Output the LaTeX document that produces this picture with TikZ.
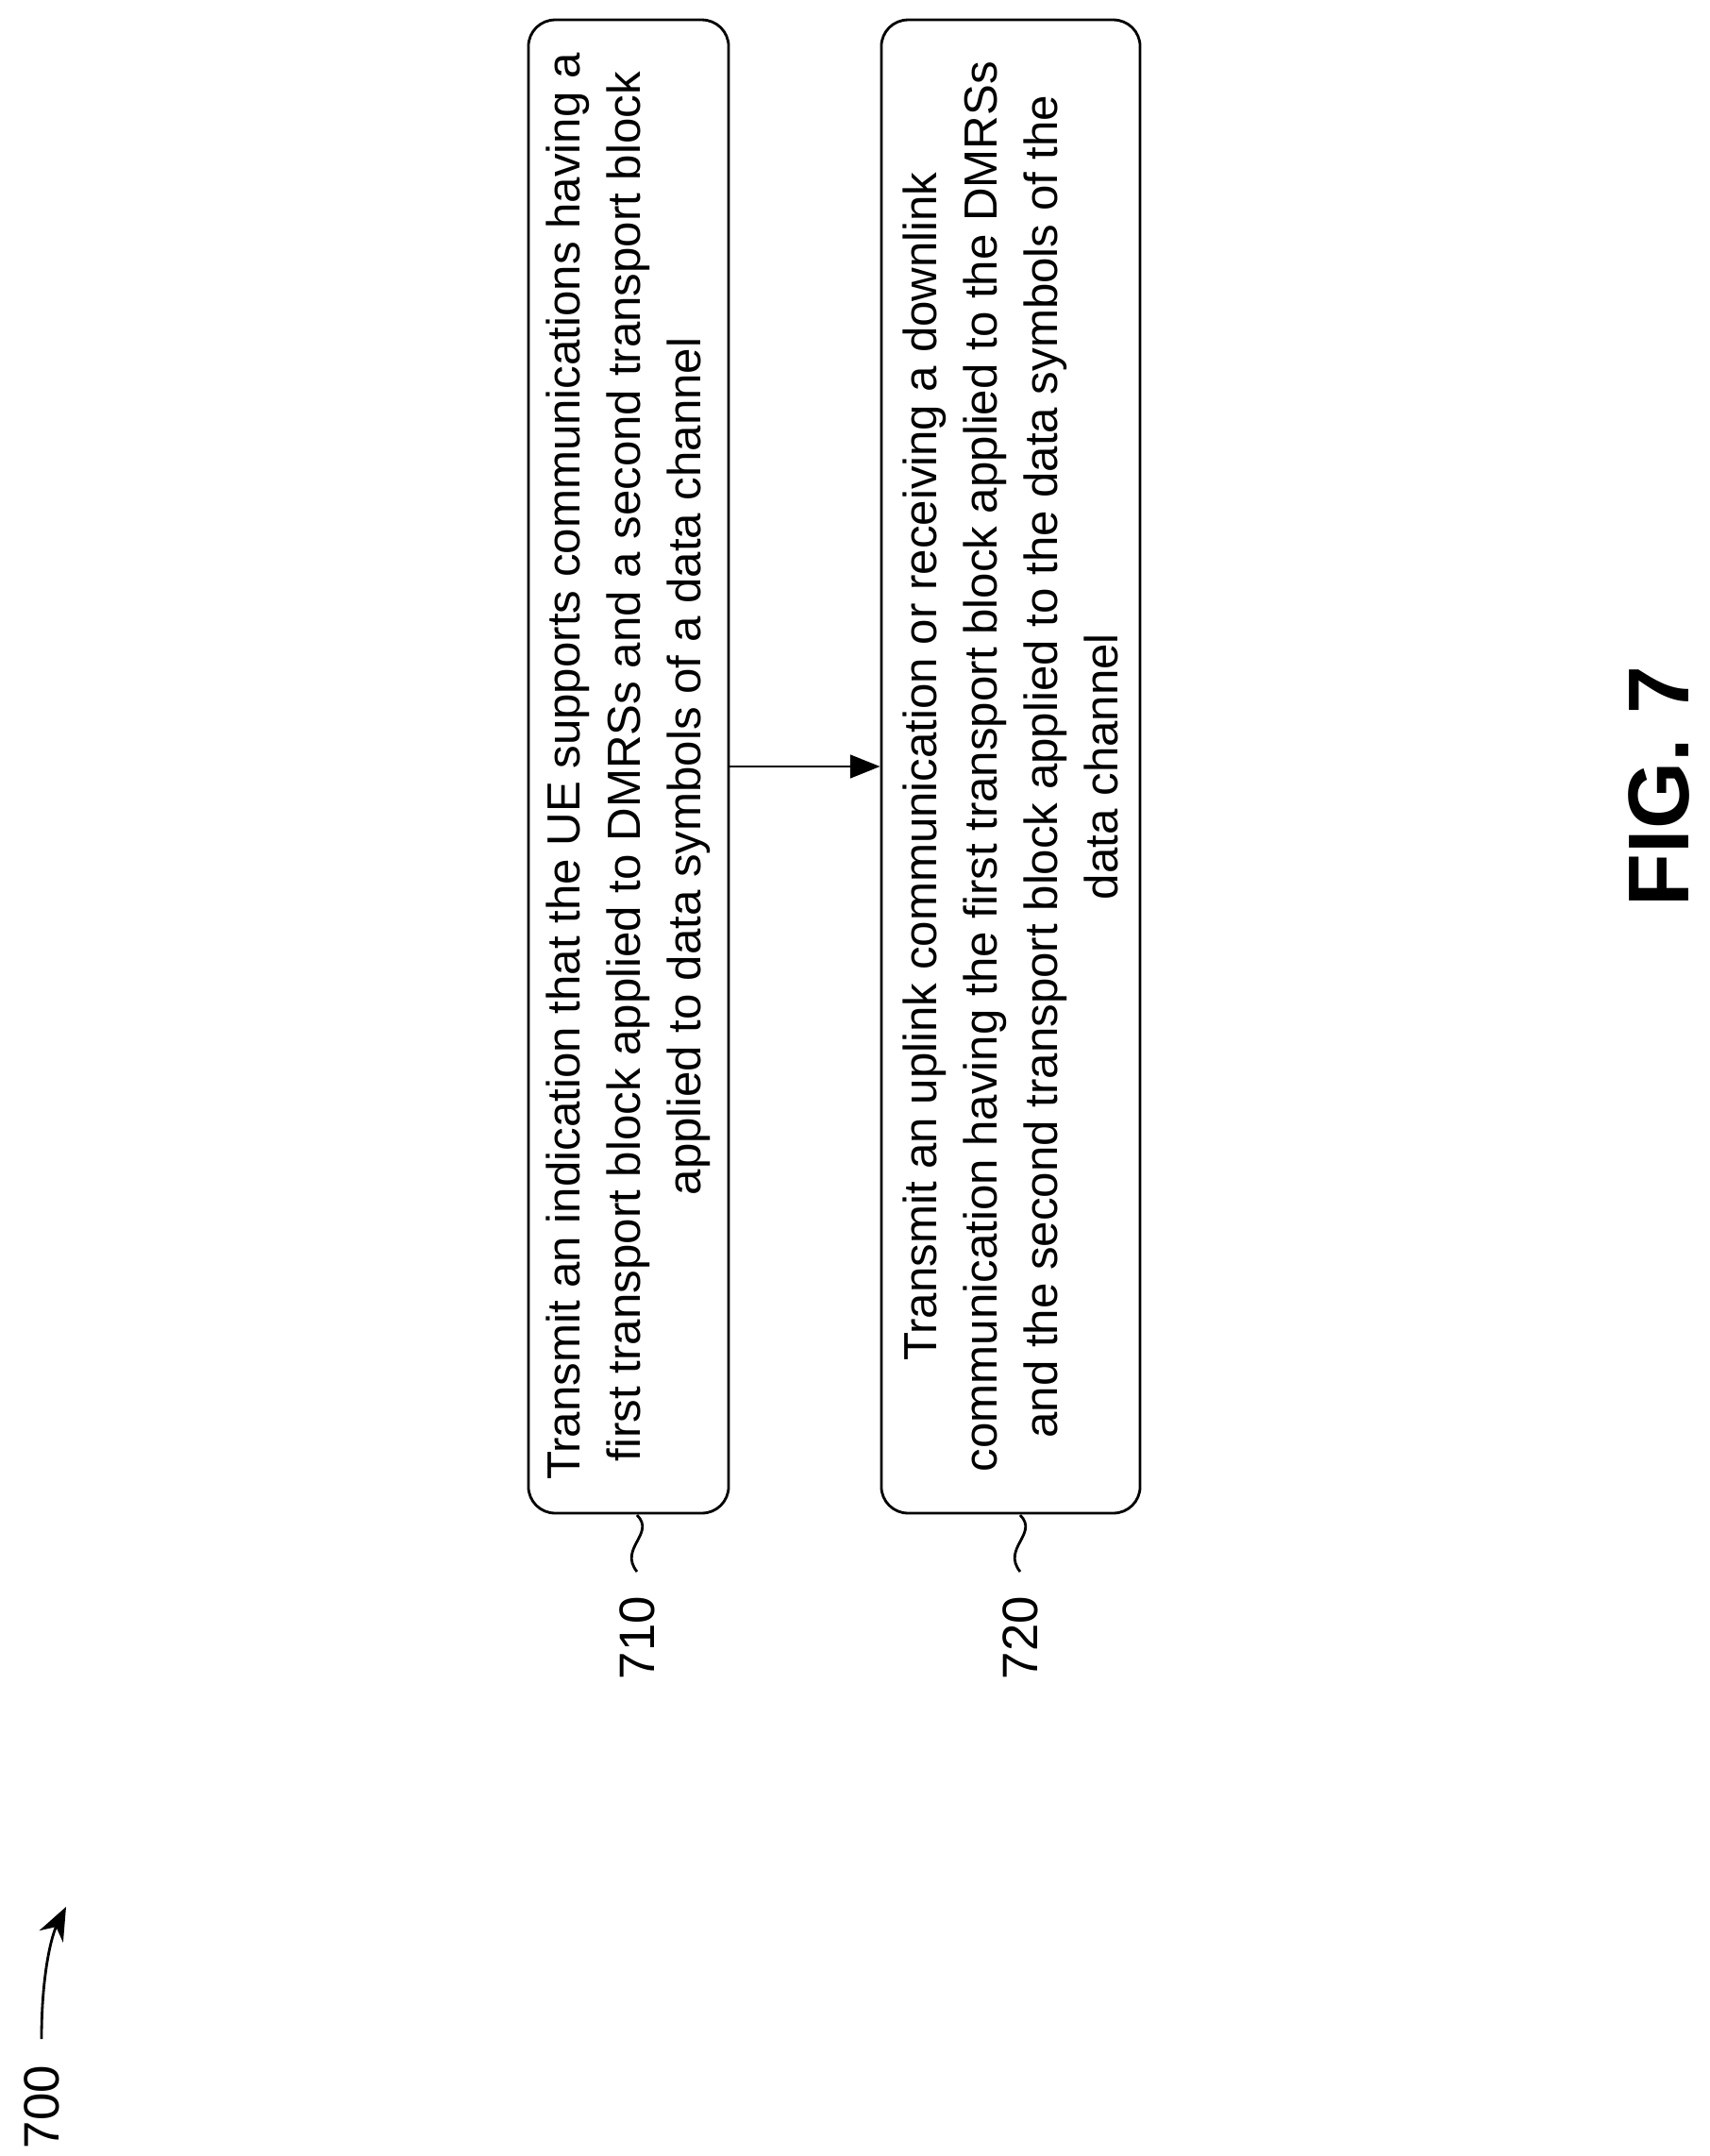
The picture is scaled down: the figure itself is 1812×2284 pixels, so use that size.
\documentclass[tikz,border=0pt]{standalone}
\usepackage{fontspec}
\setmainfont{Liberation Sans}
\usetikzlibrary{arrows.meta,positioning}

\begin{document}
\begin{tikzpicture}
    [
      x=0.01cm,y=-0.01cm,
      stepbox/.style={draw,thick,rounded corners=8pt,rotate=90,minimum width=15.81cm,
        inner sep=2pt,align=center,font=\fontsize{14}{18.2}\selectfont},
      reflabel/.style={rotate=90,font=\fontsize{15}{18}\selectfont},
      flow/.style={-{Triangle[length=9pt,width=7pt]},thick},
    ]
    \useasboundingbox (0,0) rectangle (1812,2284);

    \node (step-710) [stepbox,minimum height=2.12cm] at (666,812)
      {Transmit an indication that the UE supports communications having a\\
       first transport block applied to DMRSs and a second transport block\\
       applied to data symbols of a data channel};
    \node (step-720) [stepbox,minimum height=2.74cm] at (1071,812)
      {Transmit an uplink communication or receiving a downlink\\
       communication having the first transport block applied to the DMRSs\\
       and the second transport block applied to the data symbols of the\\
       data channel};

    \draw [flow] (step-710.south) -- (step-720.north);

    % reference numerals
    \node (label-710) [reflabel] at (675,1735) {710};
    \node (label-720) [reflabel] at (1081,1735) {720};
    \coordinate (tick-710) at (675,1605);
    \coordinate (tick-720) at (1081,1605);
    \draw [thick] (tick-710) .. controls (695,1625) and (655,1640) .. (675,1665);
    \draw [thick] (tick-720) .. controls (1101,1625) and (1061,1640) .. (1081,1665);

    \node (label-700) [reflabel] at (44,2232) {700};
    \coordinate (arrow-700) at (70,2020);
    \draw [thick,-{Stealth[length=10pt,width=8pt]}] (44,2160) .. controls (44,2090) and (55,2050) .. (arrow-700);

    \node (fig-title) [rotate=90,font=\bfseries\fontsize{26}{30}\selectfont] at (1758,833) {FIG. 7};
\end{tikzpicture}
\end{document}
